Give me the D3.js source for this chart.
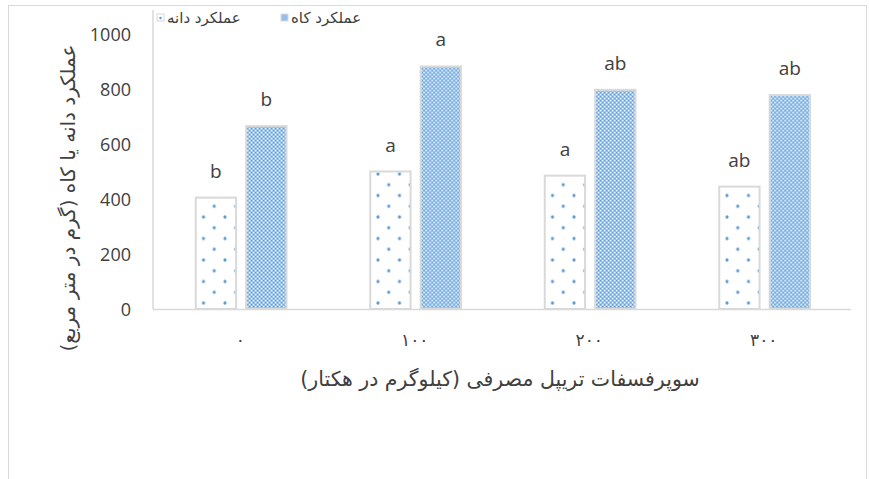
<!DOCTYPE html>
<html lang="fa">
<head>
<meta charset="utf-8">
<title>Chart</title>
<script src="https://d3js.org/d3.v7.min.js"></script>
<style>
  body { margin: 0; background: #fff; }
  svg { display: block; }
  .tick-y { font-family: "Open Sans", "Liberation Sans", sans-serif; font-size: 18px; fill: #404040; }
  .fa { font-family: "DejaVu Sans", sans-serif; fill: #404040; }
  .letter { font-family: "Open Sans", "Liberation Sans", sans-serif; font-size: 19px; fill: #404040; }
</style>
</head>
<body>
<script>
// data
const categories = ["٠", "١٠٠", "٢٠٠", "٣٠٠"];
const seriesNames = ["عملکرد دانه", "عملکرد کاه"];
const grainYield = [405, 500, 485, 445];
const strawYield = [665, 882, 797, 778];
const grainLetters = ["b", "a", "a", "ab"];
const strawLetters = ["b", "a", "ab", "ab"];
const yTicks = [0, 200, 400, 600, 800, 1000];
const xTitle = "سوپرفسفات تریپل مصرفی (کیلوگرم در هکتار)";
const yTitle = "عملکرد دانه یا کاه (گرم در متر مربع)";

const w = 869, h = 479;
const plotLeft = 153, plotRight = 851, plotTop = 34, plotBottom = 309;

const svg = d3.select("body").append("svg")
  .attr("width", w).attr("height", h);

// patterns
const defs = svg.append("defs");
const dots = defs.append("pattern")
  .attr("id", "dots").attr("patternUnits", "userSpaceOnUse")
  .attr("width", 21.5).attr("height", 21.5)
  .attr("x", 201).attr("y", 2);
dots.append("rect").attr("width", 21.5).attr("height", 21.5).attr("fill", "#fff");
[[0, 0], [21.5, 0], [0, 21.5], [21.5, 21.5], [10.75, 10.75]].forEach(p => {
  dots.append("circle").attr("cx", p[0]).attr("cy", p[1]).attr("r", 1.6).attr("fill", "#5b9bd5");
});

const checker = defs.append("pattern")
  .attr("id", "checker").attr("patternUnits", "userSpaceOnUse")
  .attr("width", 4).attr("height", 4);
checker.append("rect").attr("width", 4).attr("height", 4).attr("fill", "#94c0ea");
checker.append("rect").attr("x", 0).attr("y", 0).attr("width", 1.3).attr("height", 1.3).attr("fill", "#eef5fc");
checker.append("rect").attr("x", 2).attr("y", 2).attr("width", 1.3).attr("height", 1.3).attr("fill", "#eef5fc");
checker.append("rect").attr("x", 2).attr("y", 0).attr("width", 1).attr("height", 1).attr("fill", "#5b9bd5");
checker.append("rect").attr("x", 0).attr("y", 2).attr("width", 1).attr("height", 1).attr("fill", "#5b9bd5");

const fills = ["url(#dots)", "url(#checker)"];

// outer border
svg.append("rect")
  .attr("x", 8.5).attr("y", 5.5).attr("width", 858).attr("height", 480)
  .attr("fill", "none").attr("stroke", "#d9d9d9");

// scales
const x0 = d3.scaleBand().domain(categories).range([plotLeft, plotRight]);
const x1 = d3.scaleBand().domain([0, 1])
  .range([x0.bandwidth() * 0.245, x0.bandwidth() * 0.765])
  .paddingInner(0.2);
const y = d3.scaleLinear().domain([0, 1000]).range([plotBottom, plotTop]);

// y axis line
svg.append("line")
  .attr("x1", plotLeft).attr("x2", plotLeft).attr("y1", 10).attr("y2", plotBottom)
  .attr("stroke", "#d9d9d9").attr("stroke-width", 1.5);

// y ticks
const yAxis = svg.append("g")
  .attr("transform", "translate(" + (plotLeft - 22) + ",0)")
  .call(d3.axisLeft(y).tickValues(yTicks).tickFormat(d3.format("d")).tickSize(0).tickPadding(0));
yAxis.select(".domain").remove();
yAxis.attr("font-family", null).attr("font-size", null);
yAxis.selectAll("text").attr("class", "tick-y").attr("fill", null).attr("dy", "0.35em");

// bars
const rows = categories.map((c, i) => ({
  cat: c,
  vals: [grainYield[i], strawYield[i]],
  letters: [grainLetters[i], strawLetters[i]]
}));

const groups = svg.append("g").selectAll("g")
  .data(rows).enter().append("g")
  .attr("transform", d => "translate(" + x0(d.cat) + ",0)");

groups.selectAll("rect")
  .data(d => d.vals.map((v, k) => ({ k: k, v: v })))
  .enter().append("rect")
  .attr("x", d => x1(d.k))
  .attr("y", d => y(d.v))
  .attr("width", x1.bandwidth())
  .attr("height", d => y(0) - y(d.v))
  .attr("fill", d => fills[d.k])
  .attr("stroke", "#d9d9d9")
  .attr("stroke-width", 2);

groups.selectAll("text")
  .data(d => d.vals.map((v, k) => ({ k: k, v: v, t: d.letters[k] })))
  .enter().append("text")
  .attr("class", "letter")
  .attr("x", d => x1(d.k) + x1.bandwidth() / 2)
  .attr("y", d => y(d.v) - 20)
  .attr("text-anchor", "middle")
  .text(d => d.t);

// x axis line
svg.append("line")
  .attr("x1", plotLeft).attr("x2", plotRight).attr("y1", plotBottom + 0.5).attr("y2", plotBottom + 0.5)
  .attr("stroke", "#d9d9d9").attr("stroke-width", 1.5);

// x tick labels
svg.append("g").selectAll("text")
  .data(categories).enter().append("text")
  .attr("class", "fa")
  .attr("font-size", 17)
  .attr("letter-spacing", 2)
  .attr("x", d => x0(d) + x0.bandwidth() / 2)
  .attr("y", 346)
  .attr("text-anchor", "middle")
  .text(d => d);

// x title
svg.append("text")
  .attr("class", "fa")
  .attr("font-size", 20.5)
  .attr("x", 500).attr("y", 386)
  .attr("text-anchor", "middle")
  .style("unicode-bidi", "plaintext")
  .text(xTitle);

// y title
svg.append("text")
  .attr("class", "fa")
  .attr("font-size", 20)
  .attr("transform", "translate(75,198) rotate(-90)")
  .attr("text-anchor", "middle")
  .style("unicode-bidi", "plaintext")
  .text(yTitle);

// legend
const legendX = [157, 281];
const legend = svg.append("g").selectAll("g")
  .data(seriesNames).enter().append("g")
  .attr("transform", (d, i) => "translate(" + legendX[i] + ",18)");
legend.append("rect")
  .attr("x", 0).attr("y", -4).attr("width", 7).attr("height", 7)
  .attr("fill", (d, i) => i === 0 ? "#fff" : "#94c0ea")
  .attr("stroke", "#d9d9d9").attr("stroke-width", 1);
legend.filter((d, i) => i === 0).append("circle")
  .attr("cx", 3.5).attr("cy", 0).attr("r", 1.2).attr("fill", "#5b9bd5");
legend.append("text")
  .attr("class", "fa")
  .attr("font-size", 15)
  .attr("x", 10).attr("y", 5)
  .style("unicode-bidi", "plaintext")
  .text(d => d);
</script>
</body>
</html>
